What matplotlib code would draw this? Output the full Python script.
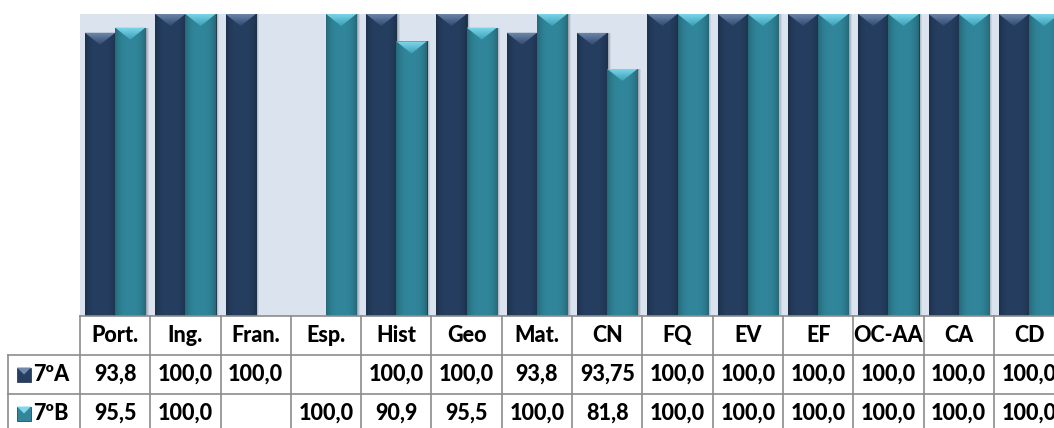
import numpy as np
import matplotlib.pyplot as plt
from matplotlib.patches import Polygon, Rectangle
from matplotlib.colors import to_rgb

# subjects and approval rates (%) for the two classes
subjects = ["Port.", "Ing.", "Fran.", "Esp.", "Hist", "Geo", "Mat.", "CN",
            "FQ", "EV", "EF", "OC-AA", "CA", "CD"]
turma_a = [93.8, 100.0, 100.0, None, 100.0, 100.0, 93.8, 93.75,
           100.0, 100.0, 100.0, 100.0, 100.0, 100.0]
turma_b = [95.5, 100.0, None, 100.0, 90.9, 95.5, 100.0, 81.8,
           100.0, 100.0, 100.0, 100.0, 100.0, 100.0]
series_names = ["7ºA", "7ºB"]
# table text keeps the number of decimals used in the sheet
decimals_a = [1, 1, 1, None, 1, 1, 1, 2, 1, 1, 1, 1, 1, 1]
decimals_b = [1, 1, None, 1, 1, 1, 1, 1, 1, 1, 1, 1, 1, 1]

W, H = 1054, 428
navy = "#263f61"
teal = "#31869b"
navy_top = ("#7189ad", "#2f4a70")
teal_top = ("#7fd8ec", "#3a9fb8")
bg = "#dbe3ee"
grid_col = "#8c8c8c"
font = "Lato"
fsize = 15.5
fweight = 900


def fmt(v, d):
    if v is None:
        return ""
    return f"{v:.{d}f}".replace(".", ",")


def px2fig(x0, y0, x1, y1):
    # pixel box (top-left origin) -> figure rect
    return [x0 / W, 1 - y1 / H, (x1 - x0) / W, (y1 - y0) / H]


fig = plt.figure(figsize=(W / 100, H / 100), dpi=100)
fig.patch.set_facecolor("white")

col_w = 70.3  # pixel width of one category column
x_left = 80
x_right = x_left + col_w * len(subjects)

ax = fig.add_axes(px2fig(x_left, 14, x_right, 316))
ax.set_facecolor(bg)
for s in ax.spines.values():
    s.set_visible(False)
ax.set_xticks([])
ax.set_yticks([])

x = np.arange(len(subjects))
bw = 0.43
bevel_h = 4.0


def draw_series(vals, offset, color, top_cols):
    xs = [xi + offset for xi, v in zip(x, vals) if v is not None]
    hs = [v for v in vals if v is not None]
    # soft shadow on the right side of each bar
    for k, a in zip([0.05, 0.035, 0.02], [0.12, 0.18, 0.25]):
        ax.bar(np.array(xs) + k, hs, bw, color="#5a6272", alpha=a,
               linewidth=0, zorder=1)
    bars = ax.bar(xs, hs, bw, color=color, edgecolor="#1b2c44",
                  linewidth=0.6, zorder=2)
    c0 = np.array(to_rgb(color))
    grad = np.linspace(-1, 1, 64)
    for b in bars:
        bx, by = b.get_x(), b.get_height()
        bwid = b.get_width()
        # darker edges for a rounded look
        shade = 1 - 0.22 * np.abs(grad) ** 3
        img = (c0[None, :] * shade[:, None])[None, :, :]
        im = ax.imshow(img, extent=[bx, bx + bwid, 0, by], aspect="auto",
                       zorder=2.5, interpolation="bilinear")
        im.set_clip_path(b)
        # bevelled top
        tri = Polygon([(bx, by), (bx + bwid, by), (bx + bwid / 2, by - bevel_h)],
                      closed=True, facecolor="none", edgecolor="none", zorder=3)
        ax.add_patch(tri)
        c1 = np.array(to_rgb(top_cols[0]))
        c2 = np.array(to_rgb(top_cols[1]))
        t = np.linspace(0, 1, 32)[:, None]
        timg = (c1 * (1 - t) + c2 * t)[:, None, :]
        tim = ax.imshow(timg, extent=[bx, bx + bwid, by - bevel_h, by],
                        aspect="auto", zorder=3, interpolation="bilinear")
        tim.set_clip_path(tri)
    return bars


draw_series(turma_a, -bw / 2, navy, navy_top)
draw_series(turma_b, bw / 2, teal, teal_top)
ax.set_xlim(-0.5, len(subjects) - 0.5)
ax.set_ylim(0, 100)

# data table below the plot
row_h = 39
tax = fig.add_axes(px2fig(x_left, 316, x_right, 316 + 3 * row_h))
tax.set_xlim(-0.5, len(subjects) - 0.5)
tax.set_ylim(3, 0)
tax.axis("off")

lab_left = -0.5 - (x_left - 8) / col_w
lw = 1.2
tax.plot([-0.5, len(subjects) - 0.5], [0, 0], color=grid_col, lw=lw,
         clip_on=False)
for yy in [1, 2, 3]:
    tax.plot([lab_left, len(subjects) - 0.5], [yy, yy], color=grid_col,
             lw=lw, clip_on=False)
for k in range(len(subjects) + 1):
    tax.plot([k - 0.5, k - 0.5], [0, 3], color=grid_col, lw=lw,
             clip_on=False)
tax.plot([lab_left, lab_left], [1, 3], color=grid_col, lw=lw, clip_on=False)

tkw = dict(ha="center", va="center", fontsize=fsize, fontweight=fweight,
           family=font, color="black", clip_on=False)
for i, s in enumerate(subjects):
    tax.text(i, 0.5, s, **tkw)
    tax.text(i, 1.5, fmt(turma_a[i], decimals_a[i]), **tkw)
    tax.text(i, 2.5, fmt(turma_b[i], decimals_b[i]), **tkw)

# legend keys in the row headers
key_w = 14 / col_w
key_x = -0.5 - (x_left - 17) / col_w
for r, (name, col, tc) in enumerate(zip(series_names, [navy, teal],
                                        [navy_top, teal_top])):
    yc = 1.5 + r
    kh = 14 / row_h
    tax.add_patch(Rectangle((key_x, yc - kh / 2), key_w, kh, facecolor=col,
                            edgecolor="#1b2c44", lw=0.5, clip_on=False))
    tax.add_patch(Polygon([(key_x, yc - kh / 2), (key_x + key_w, yc - kh / 2),
                           (key_x + key_w / 2, yc)], closed=True,
                          facecolor=tc[0], edgecolor="none", clip_on=False))
    tax.text(key_x + key_w + 2 / col_w, yc, name, ha="left", va="center",
             fontsize=fsize, fontweight=fweight, family=font, clip_on=False)

fig.savefig("out.png", dpi=100)
